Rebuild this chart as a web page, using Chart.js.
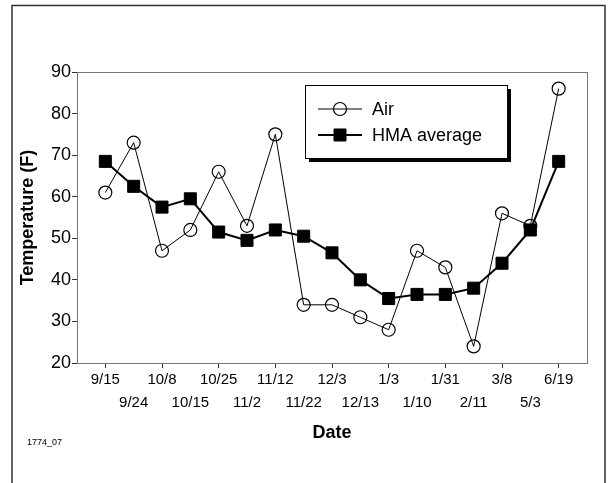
<!DOCTYPE html>
<html lang="en">
<head>
    <meta charset="UTF-8">
    <title>Air vs HMA temperature</title>
    <style>
        html, body { margin: 0; padding: 0; background: #fff; }
        #wrap { width: 608px; height: 483px; }
    </style>
</head>
<body>
    <div id="wrap">
        <canvas id="myChart" width="608" height="483"></canvas>
    </div>

    <script src="https://cdn.jsdelivr.net/npm/chart.js"></script>

    <script>
        // data
        const dates = ['9/15', '9/24', '10/8', '10/15', '10/25', '11/2', '11/12', '11/22', '12/3',
                       '12/13', '1/3', '1/10', '1/31', '2/11', '3/8', '5/3', '6/19'];
        const airTemp = [61, 73, 47, 52, 66, 53, 75, 34, 34, 31, 28, 47, 43, 24, 56, 53, 86];
        const hmaTemp = [68.5, 62.5, 57.5, 59.5, 51.5, 49.5, 52, 50.5, 46.5, 40, 35.5, 36.5, 36.5, 38, 44, 52, 68.5];
        const yTicks = [20, 30, 40, 50, 60, 70, 80, 90];
        const figureId = '1774_07';

        const FONT = "'Liberation Sans', Arial, sans-serif";
        const ctx = document.getElementById('myChart');

        // outer frame, box around plot area, and the legend with its shadow
        const decor = {
            id: 'decor',
            beforeDraw(chart) {
                const c = chart.ctx;
                c.save();
                c.fillStyle = '#fff';
                c.fillRect(0, 0, chart.width, chart.height);
                c.strokeStyle = '#333';
                c.lineWidth = 1.5;
                c.strokeRect(12, 5.5, 593, 520);
                c.fillStyle = '#000';
                c.font = '9px ' + FONT;
                c.textBaseline = 'middle';
                c.fillText(figureId, 27, 443);
                c.restore();
            },
            beforeDatasetsDraw(chart) {
                const a = chart.chartArea;
                const c = chart.ctx;
                c.save();
                c.strokeStyle = '#777';
                c.lineWidth = 1;
                c.strokeRect(a.left + 0.5, a.top + 0.5, a.right - a.left, a.bottom - a.top);
                c.restore();
            },
            afterDraw(chart) {
                const c = chart.ctx;
                const x = 305, y = 85, w = 202, h = 73;
                c.save();
                c.fillStyle = '#000';
                c.fillRect(x + 4, y + 4, w, h);
                c.fillStyle = '#fff';
                c.fillRect(x, y, w, h);
                c.strokeStyle = '#000';
                c.lineWidth = 1;
                c.strokeRect(x + 0.5, y + 0.5, w, h);

                const rows = [
                    { y: 109, ds: chart.data.datasets[0] },
                    { y: 135, ds: chart.data.datasets[1] }
                ];
                rows.forEach(r => {
                    const ds = r.ds;
                    c.strokeStyle = '#000';
                    c.lineWidth = ds.borderWidth;
                    c.beginPath();
                    c.moveTo(318, r.y);
                    c.lineTo(362, r.y);
                    c.stroke();

                    c.lineWidth = ds.pointBorderWidth;
                    c.beginPath();
                    if (ds.pointStyle === 'circle') {
                        c.arc(340, r.y, ds.pointRadius, 0, Math.PI * 2);
                    } else {
                        const s = ds.pointRadius * Math.SQRT1_2;
                        c.rect(340 - s, r.y - s, 2 * s, 2 * s);
                        c.fillStyle = ds.pointBackgroundColor;
                        c.fill();
                    }
                    c.stroke();

                    c.fillStyle = '#000';
                    c.font = '18px ' + FONT;
                    c.textBaseline = 'middle';
                    c.textAlign = 'left';
                    c.fillText(ds.label, 372, r.y + 1);
                });
                c.restore();
            }
        };

        new Chart(ctx, {
            type: 'line',
            data: {
                datasets: [{
                    label: 'Air',
                    data: airTemp.map((v, i) => ({ x: i, y: v })),
                    borderColor: '#000',
                    borderWidth: 1,
                    pointStyle: 'circle',
                    pointRadius: 6.5,
                    pointBorderWidth: 1.2,
                    pointBackgroundColor: 'transparent',
                    pointBorderColor: '#000',
                    tension: 0,
                    order: 1
                },
                {
                    label: 'HMA average',
                    data: hmaTemp.map((v, i) => ({ x: i, y: v })),
                    borderColor: '#000',
                    borderWidth: 2,
                    pointStyle: 'rect',
                    pointRadius: 8.5,
                    pointBorderWidth: 1,
                    pointBackgroundColor: '#000',
                    pointBorderColor: '#000',
                    tension: 0,
                    order: 2
                }]
            },
            options: {
                responsive: false,
                animation: false,
                events: [],
                layout: { padding: { left: 0, top: 72, right: 21, bottom: 0 } },
                plugins: {
                    legend: { display: false },
                    tooltip: { enabled: false }
                },
                scales: {
                    x: {
                        type: 'linear',
                        min: -1,
                        max: 17,
                        afterBuildTicks: scale => {
                            scale.ticks = dates.map((d, i) => ({ value: i }));
                        },
                        afterFit: scale => { scale.height = 120; },
                        grid: {
                            drawOnChartArea: false,
                            tickLength: 5,
                            tickColor: c => (c.index % 2 === 0 ? '#333' : 'rgba(0,0,0,0)')
                        },
                        border: { color: '#333', width: 1 },
                        ticks: {
                            autoSkip: false,
                            maxRotation: 0,
                            padding: 1,
                            color: '#000',
                            font: { family: FONT, size: 15, lineHeight: 1.5 },
                            // two staggered rows of dates
                            callback: (v, i) => (i % 2 === 0 ? [dates[i]] : ['', dates[i]])
                        },
                        title: {
                            display: true,
                            text: 'Date',
                            color: '#000',
                            font: { family: FONT, size: 18, weight: 'bold', lineHeight: 1.2 },
                            padding: { top: 0, bottom: 39 }
                        }
                    },
                    y: {
                        min: 20,
                        max: 90,
                        afterBuildTicks: scale => {
                            scale.ticks = yTicks.map(v => ({ value: v }));
                        },
                        afterFit: scale => { scale.width = 77; },
                        grid: {
                            drawOnChartArea: false,
                            tickLength: 5,
                            tickColor: '#333'
                        },
                        border: { color: '#333', width: 1 },
                        ticks: {
                            padding: 1,
                            color: '#000',
                            font: { family: FONT, size: 18 }
                        },
                        title: {
                            display: true,
                            text: 'Temperature (F)',
                            color: '#000',
                            font: { family: FONT, size: 18, weight: 'bold', lineHeight: 1.2 },
                            padding: { top: 17, bottom: 0 }
                        }
                    }
                }
            },
            plugins: [decor]
        });
    </script>
</body>
</html>
